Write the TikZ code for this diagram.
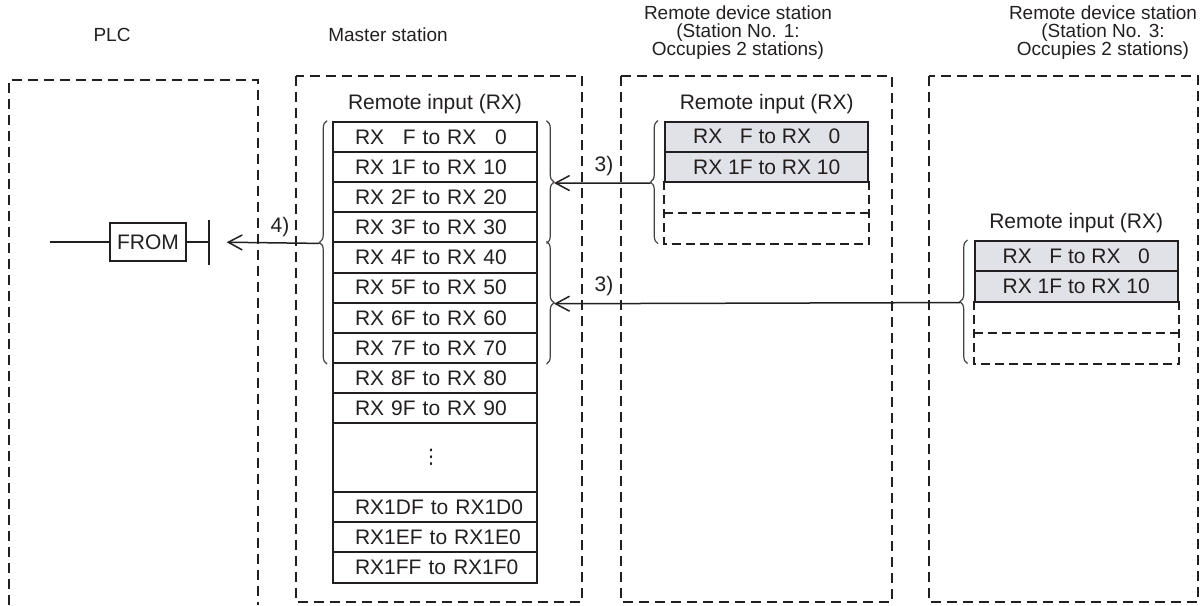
\documentclass[tikz,border=0pt]{standalone}
\usepackage{fontspec}
\setmainfont{Liberation Sans}
\newfontfamily\symfont{DejaVu Sans}
\usetikzlibrary{arrows.meta}
\usetikzlibrary{positioning}
\usetikzlibrary{decorations.pathreplacing,calc}
\definecolor{ink}{RGB}{35,31,32}
\definecolor{cellgray}{RGB}{224,226,231}
\tikzset{
    station/.style={
        draw=ink,
        line width=1pt,
        dash pattern=on 5pt off 3pt
    },
    cell/.style={
        rectangle,
        draw=ink,
        line width=1pt,
        inner sep=0pt,
        minimum width=101.7pt,
        minimum height=15.1pt,
        text=ink,
        font=\fontsize{10.5}{12}\selectfont
    },
    mcell/.style={
        cell,
        text width=101.7pt,
        align=left,
        execute at begin node={\hspace*{10.85pt}}
    },
    spare/.style={
        cell,
        draw=none
    },
    spareline/.style={
        draw=ink,
        line width=1pt,
        dash pattern=on 4.5pt off 2.5pt
    },
    brace/.style={
        decorate,
        decoration={brace, amplitude=3.75pt},
        draw=ink!85,
        line width=0.6pt
    },
    conn/.style={
        draw=ink,
        line width=0.75pt,
        -{Straight Barb[length=7pt,width=7.5pt]}
    }
}

\begin{document}
\begin{tikzpicture}[
    x=0.5pt, y=-0.5pt,
    % plain text labels
    lbl/.style={
        text=ink,
        font=\fontsize{10.5}{10}\selectfont,
        align=center,
        inner sep=0pt
    },
    head/.style={
        lbl,
        font=\fontsize{9.5}{9}\selectfont
    }
]
    \useasboundingbox (0,0) rectangle (1202,605);

    % Station frames
    \draw[station] (9,605) -- (9,80) -- (257.7,80) -- (257.7,605);
    \draw[station] (295.7,75.7) rectangle (581.7,601.7);
    \draw[station] (620.7,75.7) rectangle (891.7,601.7);
    \draw[station] (929.3,75.7) rectangle (1198.3,601.7);

    % Headers
    \node[head] (plc) at (112,35) {PLC};
    \node[head] (master) at (388,35) {Master station};
    \node[head] (dev1) at (738,33) {Remote device station\\(Station No. 1:\\Occupies 2 stations)};
    \node[head] (dev3) at (1103,33) {Remote device station\\(Station No. 3:\\Occupies 2 stations)};

    % Master station: remote input table
    \node[lbl] (minput) at (435,104) {Remote input (RX)};
    \foreach \txt [count=\i] in {RX \phantom{1}F to RX \phantom{1}0, RX 1F to RX 10,
        RX 2F to RX 20, RX 3F to RX 30, RX 4F to RX 40, RX 5F to RX 50,
        RX 6F to RX 60, RX 7F to RX 70, RX 8F to RX 80, RX 9F to RX 90} {
        \node[mcell] (m\i) at (435,{136.8+30.17*(\i-1)}) {\txt};
    }
    \node[cell, minimum height=34.15pt] (mdots) at (435,457.55)
        {\symfont\fontsize{10}{10}\selectfont\hspace*{-4pt}⋮};
    \foreach \txt [count=\i from 11] in {RX1DF to RX1D0, RX1EF to RX1E0, RX1FF to RX1F0} {
        \node[mcell] (m\i) at (435,{506.85+30.3*(\i-11)}) {\txt};
    }

    % Remote device station 1
    \node[lbl] (ainput) at (766.7,104) {Remote input (RX)};
    \foreach \i in {3,4} {
        \node[spare] (a\i) at (766.7,{136.65+30.3*(\i-1)}) {};
    }
    \draw[spareline] (a3.north west) -- (a4.south west) -- (a4.south east) -- (a3.north east);
    \draw[spareline] (a3.south west) -- (a3.south east);
    \foreach \txt [count=\i] in {RX \phantom{1}F to RX \phantom{1}0, RX 1F to RX 10} {
        \node[cell, fill=cellgray] (a\i) at (766.7,{136.65+30.3*(\i-1)}) {\txt};
    }

    % Remote device station 3
    \node[lbl] (binput) at (1076.2,223) {Remote input (RX)};
    \foreach \i in {3,4} {
        \node[spare] (b\i) at (1076.2,{255.95+30.5*(\i-1)}) {};
    }
    \draw[spareline] (b3.north west) -- (b4.south west) -- (b4.south east) -- (b3.north east);
    \draw[spareline] (b3.south west) -- (b3.south east);
    \foreach \txt [count=\i] in {RX \phantom{1}F to RX \phantom{1}0, RX 1F to RX 10} {
        \node[cell, fill=cellgray] (b\i) at (1076.2,{255.95+30.5*(\i-1)}) {\txt};
    }

    % Braces
    \draw[brace] ([xshift=-2.65pt]m8.south west) -- ([xshift=-2.65pt]m1.north west);
    \draw[brace] ([xshift=4.4pt]m1.north east) -- ([xshift=4.4pt]m4.south east);
    \draw[brace] ([xshift=4.4pt]m5.north east) -- ([xshift=4.4pt]m8.south east);
    \draw[brace] ([xshift=-3pt]a4.south west) -- ([xshift=-3pt]a1.north west);
    \draw[brace] ([xshift=-3pt]b4.south west) -- ([xshift=-3pt]b1.north west);

    \coordinate (mtipL) at ([xshift=-6.4pt]m4.south west);
    \coordinate (mtipA) at ([xshift=8.15pt]m2.south east);
    \coordinate (mtipB) at ([xshift=8.15pt]m6.south east);
    \coordinate (atip) at ([xshift=-6.75pt]a2.south west);
    \coordinate (btip) at ([xshift=-6.75pt]b2.south west);

    % FROM instruction in the PLC
    \node[draw=ink, line width=0.7pt, minimum width=38pt, minimum height=19pt,
        inner sep=0pt, text=ink, font=\fontsize{10.5}{12}\selectfont] (from) at (148,242) {FROM};
    \coordinate (rung) at (50,242);
    \coordinate (bar) at (209,242);
    \draw[ink, line width=0.7pt] (rung) -- (from) -- (bar);
    \draw[ink, line width=0.9pt] ([yshift=11pt]bar) -- ([yshift=-11.5pt]bar);

    % Connectors
    \draw[conn] (atip) -- (mtipA);
    \draw[conn] (btip) -- (mtipB);
    \draw[conn, shorten >=8.85pt] (mtipL) -- (bar);

    \node[lbl] (step3a) at (604,166) {3)};
    \node[lbl] (step3b) at (604,286) {3)};
    \node[lbl] (step4) at (280,227) {4)};

\end{tikzpicture}
\end{document}
